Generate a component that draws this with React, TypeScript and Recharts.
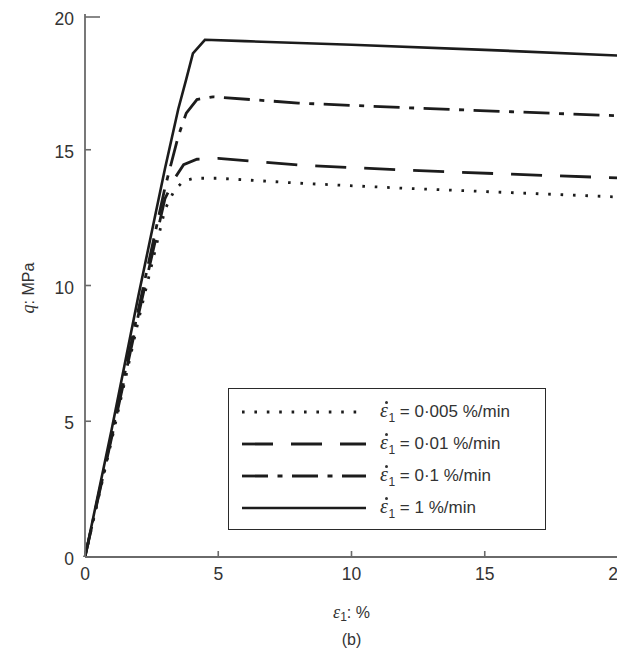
import React from 'react';
import { LineChart, Line, XAxis, YAxis, Legend } from 'recharts';

// Axial strain (%) and deviator stress q (MPa) for each strain rate
const strainSlowest = [0, 1, 2, 3, 3.35, 3.7, 4.1, 5, 8, 12, 16, 20];
const stressSlowest = [0, 4.3, 8.7, 12.8, 13.5, 13.85, 13.95, 13.95, 13.77, 13.58, 13.42, 13.26];

const strainSlow = [0, 1, 2, 3, 3.4, 3.7, 4.2, 5, 8, 12, 16, 20];
const stressSlow = [0, 4.4, 8.9, 13.2, 14.0, 14.45, 14.65, 14.68, 14.44, 14.25, 14.1, 13.96];

const strainMedium = [0, 1, 2, 3, 3.5, 3.8, 4.2, 4.8, 8, 12, 16, 20];
const stressMedium = [0, 4.5, 9.1, 13.6, 15.5, 16.35, 16.85, 16.95, 16.72, 16.55, 16.4, 16.25];

const strainFast = [0, 1, 2, 3, 3.5, 3.8, 4.05, 4.5, 6, 10, 15, 20];
const stressFast = [0, 4.7, 9.6, 14.3, 16.5, 17.6, 18.55, 19.05, 19.0, 18.87, 18.68, 18.47];

const rateLabels = ['0·005 %/min', '0·01 %/min', '0·1 %/min', '1 %/min'];
const xTicks = [0, 5, 10, 15, 20];
const yTicks = [0, 5, 10, 15, 20];

const toPoints = (xs: number[], ys: number[]) => xs.map((x, i) => ({ x, q: ys[i] }));

const series = [
  { key: 'r0', name: rateLabels[0], data: toPoints(strainSlowest, stressSlowest), dash: '2.6 9.8', width: 2.8 },
  { key: 'r1', name: rateLabels[1], data: toPoints(strainSlow, stressSlow), dash: '31 18', width: 2.8 },
  { key: 'r2', name: rateLabels[2], data: toPoints(strainMedium, stressMedium), dash: '26 9.5 5 9.5', width: 2.8 },
  { key: 'r3', name: rateLabels[3], data: toPoints(strainFast, stressFast), dash: undefined, width: 2.6 },
];

const INK = '#1c1c1c';
const AXIS = '#6a6a6a';
const TICK_TEXT = '#333';
const SANS = '"Liberation Sans", Arial, sans-serif';
const SERIF = '"Liberation Serif", "Times New Roman", serif';
const TICK_GAP = 11;

const YTick = (props: any) => {
  const { x, y, payload } = props;
  const axisX = x + TICK_GAP;
  const len = payload.value === 20 ? 15 : 6;
  return (
    <g>
      <line x1={axisX} x2={axisX + len} y1={y} y2={y} stroke={AXIS} strokeWidth={1.6} />
      <text x={x} y={y + 2} dy="0.35em" textAnchor="end" fontFamily={SANS} fontSize={17.5} fill={TICK_TEXT}>
        {payload.value}
      </text>
    </g>
  );
};

const XTick = (props: any) => {
  const { x, y, payload } = props;
  const axisY = y - TICK_GAP;
  return (
    <g>
      <line x1={x} x2={x} y1={axisY} y2={axisY - 6} stroke={AXIS} strokeWidth={1.6} />
      <text x={x} y={y} dy="0.71em" textAnchor="middle" fontFamily={SANS} fontSize={17.5} fill={TICK_TEXT}>
        {payload.value}
      </text>
    </g>
  );
};

const XLabel = (props: any) => {
  const { viewBox } = props;
  const cx = viewBox.x + viewBox.width / 2;
  const top = viewBox.y;
  return (
    <g>
      <text x={cx} y={top + 57} textAnchor="middle" dominantBaseline="middle" fontFamily={SANS} fontSize={16} fill={TICK_TEXT}>
        <tspan fontFamily={SERIF} fontStyle="italic" fontSize={18}>ε</tspan>
        <tspan fontSize={12} dy={4}>1</tspan>
        <tspan dy={-4}>: %</tspan>
      </text>
      <text x={cx} y={top + 84} textAnchor="middle" dominantBaseline="middle" fontFamily={SANS} fontSize={16} fill={TICK_TEXT}>
        (b)
      </text>
    </g>
  );
};

const YLabel = () => (
  <text
    x={22}
    y={280}
    transform="rotate(-90 22 280)"
    textAnchor="middle"
    dominantBaseline="middle"
    fontFamily={SANS}
    fontSize={16}
    fill={TICK_TEXT}
  >
    <tspan fontFamily={SERIF} fontStyle="italic" fontSize={18}>q</tspan>
    <tspan>: MPa</tspan>
  </text>
);

// Strain-rate symbol: italic epsilon with a dot above and subscript 1
const RateSymbol = () => (
  <span style={{ position: 'relative', display: 'inline-block' }}>
    <span style={{ fontFamily: SERIF, fontStyle: 'italic', fontSize: 20 }}>ε</span>
    <span
      style={{
        position: 'absolute',
        left: 4.5,
        top: 2,
        width: 3,
        height: 3,
        borderRadius: '50%',
        background: TICK_TEXT,
      }}
    />
    <sub style={{ fontSize: 12, marginLeft: 0.5 }}>1</sub>
  </span>
);

const RateLegend = () => (
  <div
    style={{
      boxSizing: 'border-box',
      width: 318,
      height: 142,
      border: '1.5px solid #2a2a2a',
      background: '#fff',
      paddingTop: 7,
      paddingLeft: 13,
    }}
  >
    {series.map((s) => (
      <div key={s.key} style={{ display: 'flex', alignItems: 'center', height: 32 }}>
        <svg width={124} height={10} style={{ display: 'block' }}>
          <line x1={0} x2={124} y1={5} y2={5} stroke={INK} strokeWidth={s.width} strokeDasharray={s.dash} />
        </svg>
        <span style={{ marginLeft: 14, fontFamily: SANS, fontSize: 17, color: TICK_TEXT, whiteSpace: 'nowrap' }}>
          <RateSymbol />
          {' = '}
          {s.name}
        </span>
      </div>
    ))}
  </div>
);

export default function App() {
  // The outer box stops at the window's right edge; the chart runs a little past it,
  // so the last x tick label sits at the edge of the figure.
  return (
    <div style={{ width: 617, height: 651, background: '#fff', overflow: 'hidden' }}>
      <LineChart width={625} height={651} margin={{ top: 6, right: 15, bottom: 72, left: 0 }}>
        <XAxis
          type="number"
          dataKey="x"
          domain={[0, 20]}
          ticks={xTicks}
          allowDuplicatedCategory={false}
          height={30}
          tickSize={0}
          tickMargin={TICK_GAP}
          tickLine={false}
          tick={<XTick />}
          axisLine={{ stroke: AXIS, strokeWidth: 1.8 }}
          label={<XLabel />}
        />
        <YAxis
          type="number"
          dataKey="q"
          domain={[0, 20]}
          ticks={yTicks}
          width={77}
          tickSize={0}
          tickMargin={TICK_GAP}
          tickLine={false}
          tick={<YTick />}
          axisLine={{ stroke: AXIS, strokeWidth: 1.8 }}
          label={<YLabel />}
        />
        {series.map((s) => (
          <Line
            key={s.key}
            data={s.data}
            dataKey="q"
            name={s.name}
            type="linear"
            stroke={INK}
            strokeWidth={s.width}
            strokeDasharray={s.dash}
            dot={false}
            activeDot={false}
            isAnimationActive={false}
          />
        ))}
        <Legend
          layout="vertical"
          align="center"
          verticalAlign="middle"
          content={<RateLegend />}
          wrapperStyle={{ position: 'absolute', left: 220, top: 380, width: 318, height: 142 }}
        />
      </LineChart>
    </div>
  );
}
